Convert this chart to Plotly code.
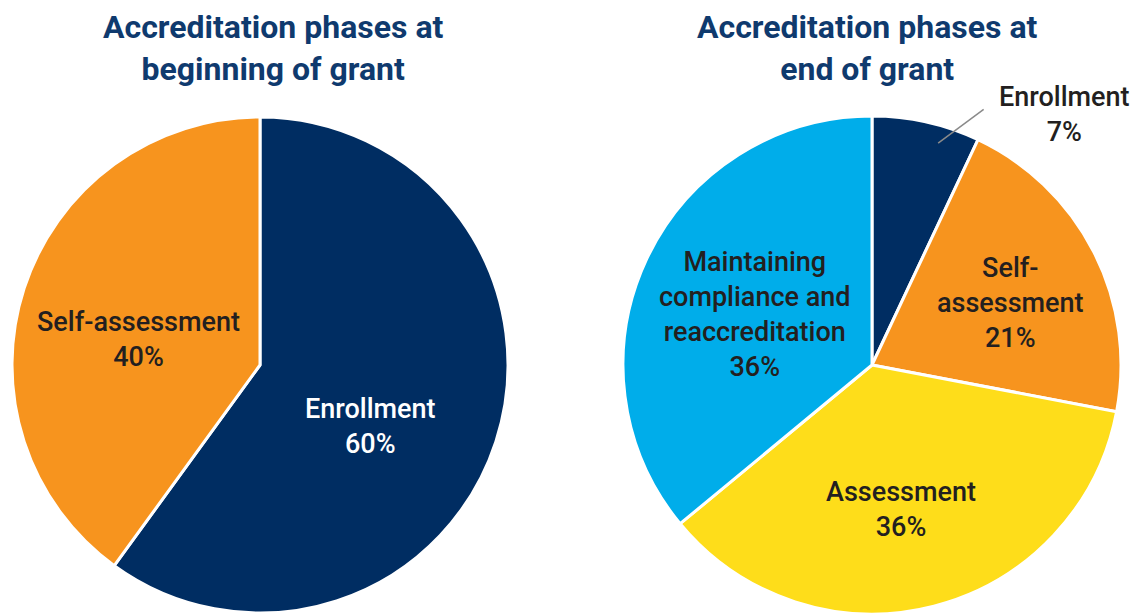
import math
import plotly.graph_objects as go

W, H = 1139, 614

# ---- data ----
left_title = "Accreditation phases at<br>beginning of grant"
left_labels = ["Enrollment", "Self-assessment"]
left_values = [60, 40]
left_text = ["Enrollment<br>60%", "Self-assessment<br>40%"]

right_title = "Accreditation phases at<br>end of grant"
right_labels = ["Enrollment", "Self-assessment", "Assessment",
                "Maintaining compliance and reaccreditation"]
right_values = [7, 21, 36, 36]
right_text = ["Enrollment<br>7%", "Self-<br>assessment<br>21%", "Assessment<br>36%",
              "Maintaining<br>compliance and<br>reaccreditation<br>36%"]

# ---- styles ----
NAVY = "#002d62"
ORANGE = "#f7941e"
YELLOW = "#fedd1a"
LBLUE = "#00adea"
TITLE_C = "#0f3a6e"
DARK = "#231f20"
FONT = "Roboto"

left_colors = [NAVY, ORANGE]
right_colors = [NAVY, ORANGE, YELLOW, LBLUE]
left_txtcol = ["white", DARK]
right_txtcol = [DARK, DARK, DARK, DARK]

# pie geometry in pixels (center x, center y, radius)
LC = (260, 365, 248)
RC = (872, 365, 249)

# label placement: (radius fraction, angle offset in deg)
left_place = [(0.51, 11), (0.5, -6)]
right_place = [(1.27, 25), (0.61, 3), (0.59, 3), (0.51, -2)]


def dom(c):
    cx, cy, r = c
    return dict(x=[(cx - r) / W, (cx + r) / W], y=[1 - (cy + r) / H, 1 - (cy - r) / H])


def px(c, ang, frac):
    cx, cy, r = c
    a = math.radians(ang)
    return cx + frac * r * math.sin(a), cy - frac * r * math.cos(a)


def mids(values):
    tot = sum(values)
    out, acc = [], 0
    for v in values:
        out.append((acc + v / 2) / tot * 360)
        acc += v
    return out


fig = go.Figure()
fig.add_trace(go.Pie(labels=left_labels, values=left_values, sort=False, direction="clockwise",
                     rotation=0, textinfo="none", hoverinfo="label+percent",
                     marker=dict(colors=left_colors, line=dict(color="white", width=3)),
                     domain=dom(LC), showlegend=False))
fig.add_trace(go.Pie(labels=right_labels, values=right_values, sort=False, direction="clockwise",
                     rotation=0, textinfo="none", hoverinfo="label+percent",
                     marker=dict(colors=right_colors, line=dict(color="white", width=3)),
                     domain=dom(RC), showlegend=False))

ann = []
for c, vals, texts, cols, place in [(LC, left_values, left_text, left_txtcol, left_place),
                                     (RC, right_values, right_text, right_txtcol, right_place)]:
    for m, t, col, (f, off) in zip(mids(vals), texts, cols, place):
        x, y = px(c, m + off, f)
        ann.append(dict(x=x / W, y=1 - y / H, xref="paper", yref="paper", text=t, showarrow=False,
                        font=dict(family=FONT, size=27, color=col, weight=500),
                        xanchor="center", yanchor="middle", align="center"))

# leader line for small right slice
m0 = mids(right_values)[0]
x0, y0 = px(RC, m0 + 4, 0.93)
x1, y1 = px(RC, m0 + 11, 1.12)
shapes = [dict(type="line", xref="paper", yref="paper", x0=x0 / W, y0=1 - y0 / H,
               x1=x1 / W, y1=1 - y1 / H, line=dict(color="#8a8a8a", width=1.5))]

for t, xc in [(left_title, 273), (right_title, 867)]:
    ann.append(dict(x=xc / W, y=1 - 48 / H, xref="paper", yref="paper", text=t, showarrow=False,
                    font=dict(family=FONT, size=32, color=TITLE_C, weight=700),
                    xanchor="center", yanchor="middle", align="center"))

fig.update_layout(width=W, height=H, margin=dict(l=0, r=0, t=0, b=0),
                  paper_bgcolor="white", plot_bgcolor="white",
                  annotations=ann, shapes=shapes)

fig.write_html("out.html", config={"displayModeBar": False},
               post_script="document.body.style.margin='0';document.body.style.padding='0';")
